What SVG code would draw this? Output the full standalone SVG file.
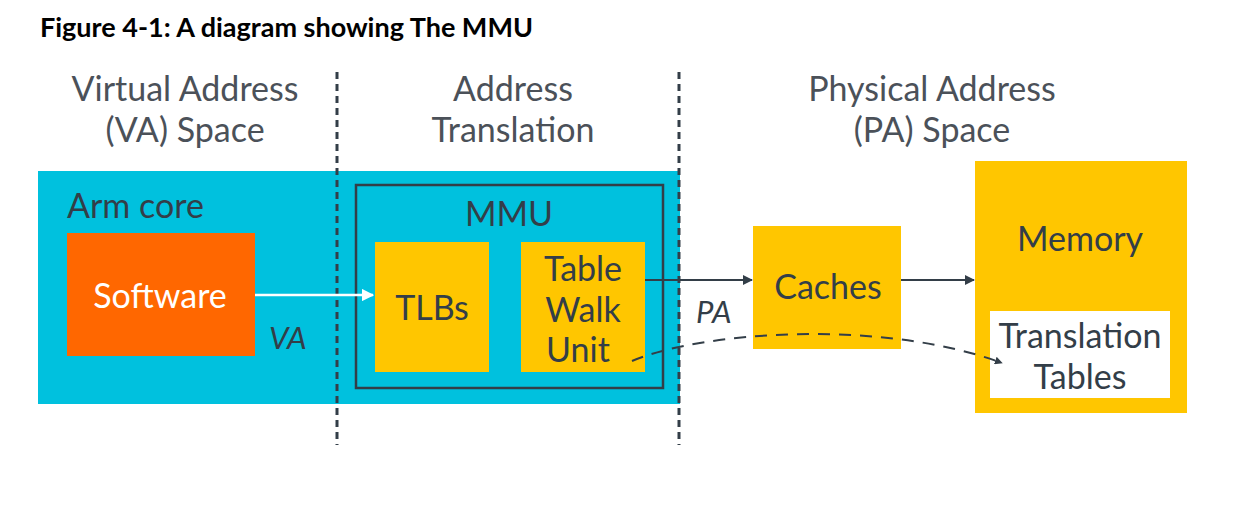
<svg xmlns="http://www.w3.org/2000/svg" width="1253" height="521" viewBox="0 0 1253 521">
<defs>
<style>
.t{font-family:Lato,"Liberation Sans",sans-serif;}
.hd{font-size:34px;fill:#4b5159;text-anchor:middle;}
.lbl{font-size:34px;fill:#333e48;text-anchor:middle;}
.yel{fill:#ffc600;}
.sep{stroke:#333e48;stroke-width:3;stroke-dasharray:7 5;fill:none;}
.conn{stroke:#333e48;stroke-width:2;fill:none;}
</style>
<marker id="ah" viewBox="0 0 10 10" refX="9" refY="5" markerWidth="5" markerHeight="5" orient="auto" markerUnits="strokeWidth">
<path d="M0,0 L10,5 L0,10 z" fill="#333e48"/>
</marker>
<marker id="ahd" viewBox="0 0 10 10" refX="9" refY="5" markerWidth="4" markerHeight="4" orient="auto" markerUnits="strokeWidth">
<path d="M0,0 L10,5 L0,10 z" fill="#333e48"/>
</marker>
<marker id="ahw" viewBox="0 0 10 10" refX="9" refY="5" markerWidth="5" markerHeight="5" orient="auto" markerUnits="strokeWidth">
<path d="M0,0 L10,5 L0,10 z" fill="#ffffff"/>
</marker>
</defs>
<rect width="1253" height="521" fill="#ffffff"/>
<text class="t" x="40" y="37" font-size="27" font-weight="bold" fill="#000000">Figure 4-1: A diagram showing The MMU</text>

<g id="headers">
<text class="t hd" x="185" y="101">Virtual Address</text>
<text class="t hd" x="185" y="142">(VA) Space</text>
<text class="t hd" x="513" y="101">Address</text>
<text class="t hd" x="513" y="142">Translation</text>
<text class="t hd" x="932" y="101">Physical Address</text>
<text class="t hd" x="932" y="142">(PA) Space</text>
</g>

<g id="armcore">
<rect x="38" y="171" width="642" height="233" fill="#00c1de"/>
<text class="t" x="67" y="218" font-size="34" fill="#333e48">Arm core</text>
</g>

<g id="software">
<rect x="67" y="233" width="188" height="123" fill="#ff6700"/>
<text class="t" x="160" y="308" font-size="34" fill="#ffffff" text-anchor="middle">Software</text>
</g>

<g id="mmu">
<rect x="356" y="185" width="307" height="203" fill="none" stroke="#333e48" stroke-width="2.5"/>
<text class="t lbl" x="509" y="226">MMU</text>
</g>

<g id="tlbs">
<rect class="yel" x="375" y="242" width="114" height="130"/>
<text class="t lbl" x="432" y="320">TLBs</text>
</g>

<g id="twu">
<rect class="yel" x="521" y="242" width="124" height="130"/>
<text class="t lbl" x="583" y="281">Table</text>
<text class="t lbl" x="583" y="322">Walk</text>
<text class="t lbl" x="578" y="362">Unit</text>
</g>

<g id="caches">
<rect class="yel" x="753" y="226" width="148" height="123"/>
<text class="t lbl" x="828" y="299">Caches</text>
</g>

<g id="memory">
<rect class="yel" x="975" y="161" width="212" height="252"/>
<text class="t lbl" x="1080" y="251">Memory</text>
</g>

<g id="ttables">
<rect x="990" y="311" width="180" height="87" fill="#ffffff"/>
<text class="t lbl" x="1080" y="348">Translation</text>
<text class="t lbl" x="1080" y="389">Tables</text>
</g>

<g id="separators">
<line class="sep" x1="337" y1="72" x2="337" y2="445"/>
<line class="sep" x1="679" y1="72" x2="679" y2="445"/>
</g>

<g id="connectors">
<line x1="255" y1="295" x2="373" y2="295" stroke="#ffffff" stroke-width="2.5" marker-end="url(#ahw)"/>
<line class="conn" x1="645" y1="280" x2="752" y2="280" marker-end="url(#ah)"/>
<line class="conn" x1="901" y1="280" x2="974" y2="280" marker-end="url(#ah)"/>
<path class="conn" d="M632,361 C700,332 880,318 1002,363" stroke-width="2.5" stroke-dasharray="12 9" marker-end="url(#ahd)"/>
<text class="t" x="269" y="349" font-size="31" font-style="italic" fill="#333e48">VA</text>
<text class="t" x="696" y="323" font-size="31" font-style="italic" fill="#333e48">PA</text>
</g>
</svg>
